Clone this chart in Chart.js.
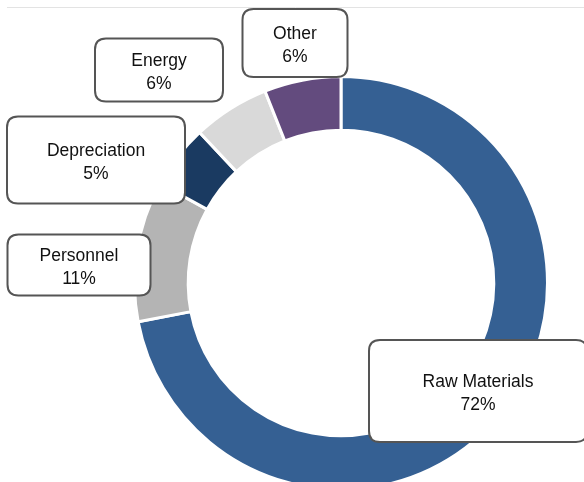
<!DOCTYPE html>
<html>
<head>
<meta charset="utf-8">
<script src="https://cdn.jsdelivr.net/npm/chart.js@4.4.1/dist/chart.umd.min.js"></script>
<style>
    html, body { margin: 0; padding: 0; background: #ffffff; overflow: hidden; }
    #wrap { position: relative; width: 584px; height: 520px; }
</style>
</head>
<body>
<div id="wrap"><canvas id="cost-chart"></canvas></div>
<script>
const categories = ['Raw Materials', 'Personnel', 'Depreciation', 'Energy', 'Other'];
const shares = [72, 11, 5, 6, 6];
const sliceColors = ['#356093', '#b4b4b4', '#1a3a61', '#d9d9d9', '#634b7e'];

// label box placement, relative to the doughnut centre (layout only)
const labelBoxes = [
    { dx: 137, dy: 108, w: 218, h: 102 },
    { dx: -262, dy: -18, w: 143, h: 61 },
    { dx: -245, dy: -123, w: 178, h: 87 },
    { dx: -182, dy: -213, w: 128, h: 63 },
    { dx: -46, dy: -240, w: 105, h: 68 },
];

const frameLine = {
    id: 'frameLine',
    beforeDraw(chart) {
        const ctx = chart.ctx;
        ctx.save();
        ctx.strokeStyle = '#e3e3e3';
        ctx.lineWidth = 1;
        ctx.beginPath();
        ctx.moveTo(7, 7.5);
        ctx.lineTo(chart.width, 7.5);
        ctx.stroke();
        ctx.restore();
    },
};

function roundRect(ctx, x, y, w, h, r) {
    ctx.beginPath();
    ctx.moveTo(x + r, y);
    ctx.lineTo(x + w - r, y);
    ctx.quadraticCurveTo(x + w, y, x + w, y + r);
    ctx.lineTo(x + w, y + h - r);
    ctx.quadraticCurveTo(x + w, y + h, x + w - r, y + h);
    ctx.lineTo(x + r, y + h);
    ctx.quadraticCurveTo(x, y + h, x, y + h - r);
    ctx.lineTo(x, y + r);
    ctx.quadraticCurveTo(x, y, x + r, y);
    ctx.closePath();
}

const boxLabels = {
    id: 'boxLabels',
    afterDatasetsDraw(chart) {
        const ctx = chart.ctx;
        const arcs = chart.getDatasetMeta(0).data;
        if (!arcs.length) {
            return;
        }
        const cx = arcs[0].x;
        const cy = arcs[0].y;
        ctx.save();
        labelBoxes.forEach((box, i) => {
            const bx = cx + box.dx - box.w / 2;
            const by = cy + box.dy - box.h / 2;
            roundRect(ctx, bx, by, box.w, box.h, 11);
            ctx.fillStyle = '#ffffff';
            ctx.fill();
            ctx.strokeStyle = '#555555';
            ctx.lineWidth = 2;
            ctx.stroke();
            ctx.fillStyle = '#111111';
            ctx.font = '17.5px "Liberation Sans", Arial, sans-serif';
            ctx.textAlign = 'center';
            ctx.textBaseline = 'middle';
            ctx.fillText(categories[i], cx + box.dx, cy + box.dy - 9);
            ctx.fillText(shares[i] + '%', cx + box.dx, cy + box.dy + 14);
        });
        ctx.restore();
    },
};

new Chart(document.getElementById('cost-chart'), {
    type: 'doughnut',
    data: {
        labels: categories,
        datasets: [{
            data: shares,
            backgroundColor: sliceColors,
            borderColor: '#ffffff',
            borderWidth: 3,
        }],
    },
    options: {
        responsive: true,
        maintainAspectRatio: false,
        animation: false,
        cutout: '74%',
        layout: {
            padding: { left: 133, right: 35, top: 75, bottom: 29 },
        },
        plugins: {
            legend: { display: false },
            tooltip: { enabled: false },
        },
    },
    plugins: [frameLine, boxLabels],
});
</script>
</body>
</html>
